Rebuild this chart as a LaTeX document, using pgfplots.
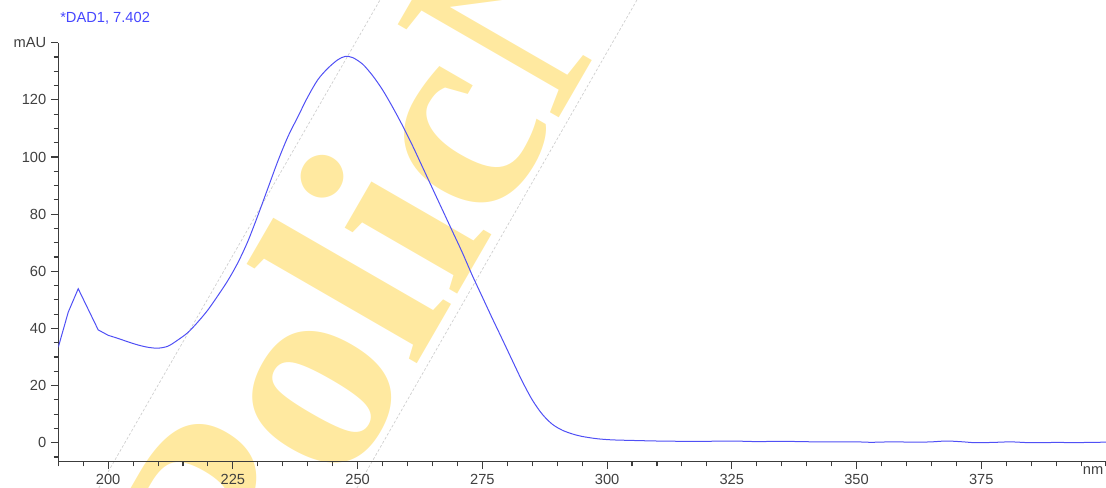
\documentclass[border=0pt]{standalone}
\usepackage{fontspec}
\setmainfont{Liberation Sans}
\newfontfamily\wmfont{Liberation Serif}
\usepackage{pgfplots}
\pgfplotsset{compat=1.18}

\definecolor{specblue}{RGB}{80,80,245}
\definecolor{titleblue}{RGB}{70,70,255}
\definecolor{axisgrey}{RGB}{60,60,60}
\definecolor{labelgrey}{RGB}{64,64,64}
\definecolor{wmyellow}{RGB}{255,233,160}
\definecolor{dashgrey}{RGB}{205,205,205}

\begin{document}
\begin{tikzpicture}
\useasboundingbox (-43.7pt,-19.7pt) rectangle (785.8pt,346.3pt);
% watermark band behind the spectrum
\begin{scope}
  \clip (-43.7pt,-19.7pt) rectangle (785.8pt,346.3pt);
  \node[rotate=60, anchor=base west, inner sep=0pt, text=wmyellow,
        font=\wmfont\bfseries\fontsize{213}{213}\selectfont]
        at (149pt,-135pt) {PolicN};
  \draw[dashgrey, dash pattern=on 2pt off 1.5pt, line width=0.5pt]
        (30.4pt,-19.7pt) -- (241.3pt,346.3pt);
  \draw[dashgrey, dash pattern=on 2pt off 1.5pt, line width=0.5pt]
        (224pt,-19.7pt) -- (434pt,346.3pt);
\end{scope}

\begin{axis}[
    at={(0pt,0pt)}, anchor=south west,
    scale only axis,
    width=785.8pt, height=314.25pt,
    xmin=190, xmax=400,
    ymin=-6.65, ymax=140,
    axis lines*=left,
    axis line style={axisgrey, line width=0.8pt},
    tick align=outside,
    tick style={axisgrey, line width=0.8pt},
    major tick length=5.5pt,
    minor tick length=3.5pt,
    xtick={200,225,...,375},
    minor xtick={190,195,...,400},
    ytick={0,20,...,140},
    yticklabels={0,20,40,60,80,100,120,mAU},
    minor ytick={-5,0,...,135},
    extra x ticks={397.4},
    extra x tick labels={nm},
    extra x tick style={major tick length=0pt},
    /pgf/number format/assume math mode=true,
    ticklabel style={font=\fontsize{11}{13}\selectfont, text=labelgrey},
]
% sharp-cornered start of the scan
\addplot[specblue, line width=0.75pt] coordinates {
    (190,33.4) (192,45.7) (194,53.9) (198,39.5) (200,37.6)
};
% main band and baseline
\addplot[specblue, line width=0.75pt, smooth, tension=0.5] coordinates {
    (200,37.6)
    (202,36.5) (204,35.3) (206,34.2) (208,33.4) (210,33.1)
    (212,33.8) (214,36.0) (216,38.6) (218,42.3) (220,46.5)
    (222,51.5) (224,56.8) (226,63.0) (228,70.5) (230,79.5)
    (232,89.0) (234,98.5) (236,107) (238,114) (240,121)
    (242,127) (244,131) (246,134) (247.5,135.2) (249,134.8)
    (251,132.5) (253,128.5) (255,123.5) (257,117.5) (259,111)
    (261,104) (263,96.5) (265,89) (267,81.5) (269,74)
    (271,66.5) (273,58.5) (275,51) (277,43.5) (279,36.2)
    (281,28.8) (283,21.5) (285,15.0) (287,10.0) (289,6.5)
    (291,4.4) (293,3.1) (295,2.2) (298,1.4) (301,1.0)
    (305,0.8) (310,0.6) (315,0.5) (320,0.5) (325,0.6)
    (330,0.4) (335,0.5) (340,0.35) (345,0.3) (350,0.3)
    (353,0.15) (357,0.3) (362,0.2) (365,0.3) (368,0.6)
    (371,0.35) (374,0.0) (378,0.15) (381,0.3) (385,0.0)
    (390,0.1) (394,0.05) (400,0.2)
};
\end{axis}

\node[anchor=west, inner sep=0pt, text=titleblue, font=\fontsize{11}{13}\selectfont]
      at (1.3pt,332.8pt) {*DAD1, 7.402};
\end{tikzpicture}
\end{document}
